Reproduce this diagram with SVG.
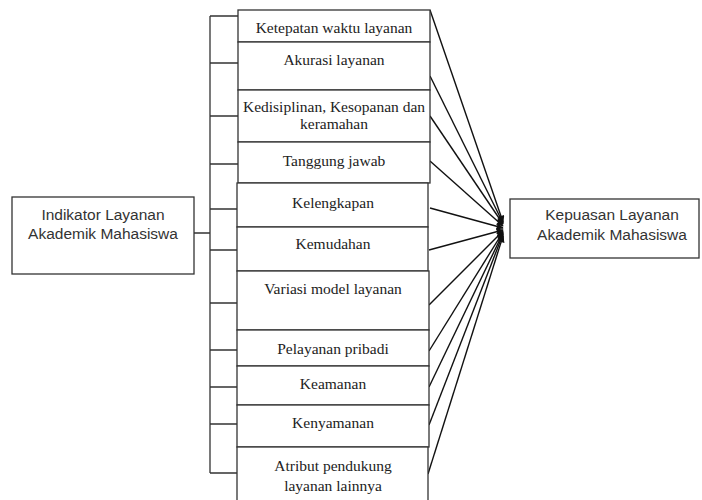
<svg xmlns="http://www.w3.org/2000/svg" width="702" height="500" viewBox="0 0 702 500">
<style>
.box{fill:#fff;stroke:#333;stroke-width:1.3}
.ser{font-family:"Liberation Serif","Times New Roman",serif;font-size:15.5px;fill:#222;text-anchor:middle}
.san{font-family:"Liberation Sans",Arial,sans-serif;font-size:15.5px;fill:#333;text-anchor:middle}
.ln{fill:none;stroke:#333;stroke-width:1.3}
.ar{fill:none;stroke:#111;stroke-width:1.4;marker-end:url(#ah)}
</style>
<defs>
<marker id="ah" viewBox="0 0 10 10" refX="9" refY="5" markerWidth="8" markerHeight="7" markerUnits="userSpaceOnUse" orient="auto">
<path d="M0,0 L10,5 L0,10 Z" fill="#111"/>
</marker>
</defs>
<rect width="702" height="500" fill="#fff"/>
<g id="connectors">
<path class="ln" d="M194,233 H210 M210,16 V473 M210,16 H238 M210,63 H238 M210,116 H238 M210,164 H238 M210,209 H237 M210,250 H237 M210,303 H237 M210,350 H237 M210,387 H237 M210,424 H237 M210,473 H237"/>
<line class="ar" x1="430" y1="10" x2="503" y2="222"/>
<line class="ar" x1="430" y1="76" x2="503" y2="223"/>
<line class="ar" x1="430" y1="116" x2="503" y2="224"/>
<line class="ar" x1="430" y1="161" x2="503" y2="226"/>
<line class="ar" x1="430" y1="208" x2="503" y2="228"/>
<line class="ar" x1="429" y1="250" x2="503" y2="230"/>
<line class="ar" x1="429" y1="305" x2="503" y2="231"/>
<line class="ar" x1="429" y1="351" x2="503" y2="232"/>
<line class="ar" x1="429" y1="387" x2="503" y2="233"/>
<line class="ar" x1="429" y1="425" x2="503" y2="234"/>
<line class="ar" x1="428" y1="474" x2="503" y2="236"/>
</g>
<g id="indikator">
<rect class="box" x="12" y="197" width="182" height="77"/>
<text class="san" x="103" y="220">Indikator Layanan</text>
<text class="san" x="103" y="239">Akademik Mahasiswa</text>
</g>
<g id="kepuasan">
<rect class="box" x="510" y="199" width="189" height="59"/>
<text class="san" x="612" y="220">Kepuasan Layanan</text>
<text class="san" x="612" y="240">Akademik Mahasiswa</text>
</g>
<g id="n1"><rect class="box" x="238" y="10" width="192" height="32"/><text class="ser" x="334" y="33">Ketepatan waktu layanan</text></g>
<g id="n2"><rect class="box" x="238" y="42" width="192" height="48"/><text class="ser" x="334" y="65">Akurasi layanan</text></g>
<g id="n3"><rect class="box" x="238" y="90" width="192" height="52"/><text class="ser" x="334" y="112">Kedisiplinan, Kesopanan dan</text><text class="ser" x="334" y="129">keramahan</text></g>
<g id="n4"><rect class="box" x="238" y="142" width="192" height="41"/><text class="ser" x="334" y="166">Tanggung jawab</text></g>
<g id="n5"><rect class="box" x="237" y="183" width="191" height="44"/><text class="ser" x="333" y="208">Kelengkapan</text></g>
<g id="n6"><rect class="box" x="237" y="227" width="191" height="44"/><text class="ser" x="333" y="249">Kemudahan</text></g>
<g id="n7"><rect class="box" x="237" y="271" width="192" height="59"/><text class="ser" x="333" y="294">Variasi model layanan</text></g>
<g id="n8"><rect class="box" x="237" y="330" width="192" height="36"/><text class="ser" x="333" y="354">Pelayanan pribadi</text></g>
<g id="n9"><rect class="box" x="237" y="366" width="192" height="39"/><text class="ser" x="333" y="389">Keamanan</text></g>
<g id="n10"><rect class="box" x="237" y="405" width="192" height="42"/><text class="ser" x="333" y="428">Kenyamanan</text></g>
<g id="n11"><rect class="box" x="237" y="447" width="191" height="56"/><text class="ser" x="333" y="471">Atribut pendukung</text><text class="ser" x="333" y="491">layanan lainnya</text></g>
</svg>
